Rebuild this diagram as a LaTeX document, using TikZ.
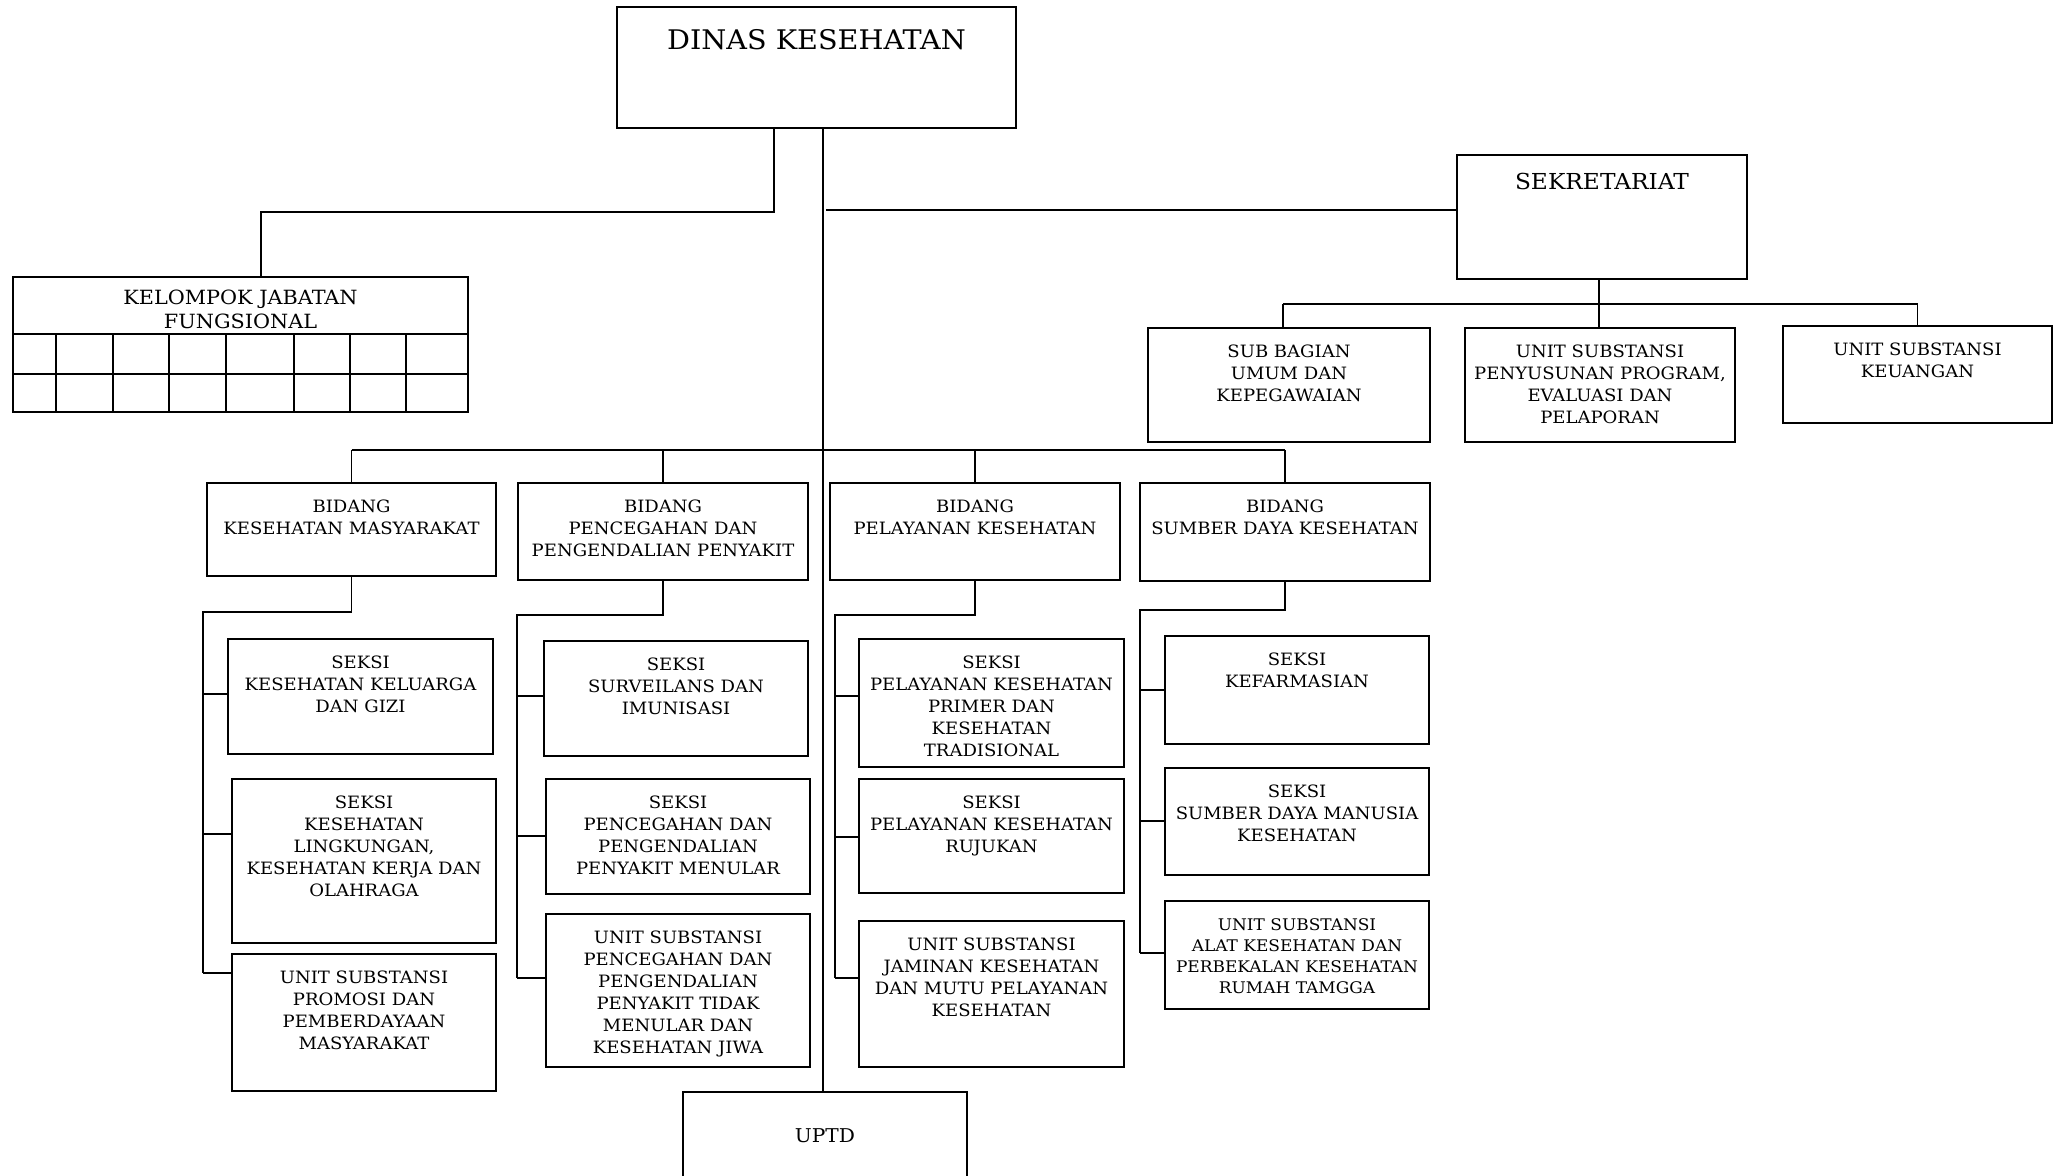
\documentclass[tikz,border=0pt]{standalone}
\usepackage{fontspec}
\setmainfont{DejaVu Serif}[FakeStretch=1.06]
\usetikzlibrary{calc}
\newcommand\orgbox[6]{%
  \node[#1, anchor=north west, minimum width={(#5-#3)*0.5pt}, minimum height={(#6-#4)*0.5pt}] (#2) at (#3,#4) {};}
\begin{document}
\begin{tikzpicture}[x=0.5pt,y=-0.5pt,
  box/.style={draw,line width=1.3pt,inner sep=0,outer sep=0},
  thinbox/.style={draw,line width=0.9pt,inner sep=0,outer sep=0},
  lbl/.style={anchor=north,inner sep=0,align=center,font=\fontsize{8.5}{11}\selectfont},
  lblsmall/.style={anchor=north,inner sep=0,align=center,font=\fontsize{8}{10.5}\selectfont},
  conn/.style={line width=0.9pt},
  kline/.style={line width=1pt}]
\useasboundingbox (0,0) rectangle (2064,1175);
\clip (0,0) rectangle (2064,1175);

% ---- boxes
\orgbox{thinbox}{dinas}{617}{7}{1016}{128}
\orgbox{box}{kjf}{13}{277}{468}{412}
\orgbox{thinbox}{sek}{1457}{155}{1747}{279}
\orgbox{box}{subbag}{1148}{328}{1430}{442}
\orgbox{box}{penyus}{1465}{328}{1735}{442}
\orgbox{box}{keu}{1783}{326}{2052}{423}
\orgbox{thinbox}{bkm}{207}{483}{496}{576}
\orgbox{thinbox}{bp}{518}{483}{808}{580}
\orgbox{thinbox}{bpel}{830}{483}{1120}{580}
\orgbox{thinbox}{bsdk}{1140}{483}{1430}{581}
\orgbox{box}{kkg}{228}{639}{493}{754}
\orgbox{box}{kesling}{232}{779}{496}{943}
\orgbox{box}{promosi}{232}{954}{496}{1091}
\orgbox{box}{surv}{544}{641}{808}{756}
\orgbox{box}{ppm}{546}{779}{810}{894}
\orgbox{box}{ptm}{546}{914}{810}{1067}
\orgbox{box}{primer}{859}{639}{1124}{767}
\orgbox{box}{rujukan}{859}{779}{1124}{893}
\orgbox{box}{jaminan}{859}{921}{1124}{1067}
\orgbox{box}{farmasi}{1165}{636}{1429}{744}
\orgbox{box}{sdm}{1165}{768}{1429}{875}
\orgbox{box}{alat}{1165}{901}{1429}{1009}
\orgbox{thinbox}{uptd}{683}{1092}{967}{1190}

% ---- KJF grid
\coordinate (kr1) at (13,334);
\coordinate (kr2) at (13,374);
\draw[kline] (kr1) -- (kr1 -| kjf.east);
\draw[kline] (kr2) -- (kr2 -| kjf.east);
\foreach \x in {56,113,169,226,294,350,406} \draw[kline] (\x,334) -- (\x,412);

% ---- texts
\node[anchor=base,inner sep=0,font=\fontsize{13.5}{16}\selectfont] (dinas-t) at ($(dinas.north)+(0,42)$) {DINAS KESEHATAN};
\node[anchor=base,inner sep=0,font=\fontsize{11}{13}\selectfont] (sek-t) at ($(sek.north)+(0,34)$) {SEKRETARIAT};
\node[anchor=north,inner sep=0,align=center,font=\fontsize{9.8}{12}\selectfont] (kjf-t) at ($(kjf.north)+(0,12.6)$) {KELOMPOK JABATAN\\FUNGSIONAL};
\node[anchor=base,inner sep=0,font=\fontsize{9.5}{12}\selectfont] (uptd-t) at (825,1142) {UPTD};

\node[lbl] (subbag-t) at ($(subbag.north)+(0,16.6)$) {SUB BAGIAN\\UMUM DAN\\KEPEGAWAIAN};
\node[lbl] (penyus-t) at ($(penyus.north)+(0,16.6)$) {UNIT SUBSTANSI\\PENYUSUNAN PROGRAM,\\EVALUASI DAN\\PELAPORAN};
\node[lbl] (keu-t) at ($(keu.north)+(0,16.6)$) {UNIT SUBSTANSI\\KEUANGAN};

\node[lbl] (bkm-t) at ($(bkm.north)+(0,16.6)$) {BIDANG\\KESEHATAN MASYARAKAT};
\node[lbl] (bp-t) at ($(bp.north)+(0,16.6)$) {BIDANG\\PENCEGAHAN DAN\\PENGENDALIAN PENYAKIT};
\node[lbl] (bpel-t) at ($(bpel.north)+(0,16.6)$) {BIDANG\\PELAYANAN KESEHATAN};
\node[lbl] (bsdk-t) at ($(bsdk.north)+(0,16.6)$) {BIDANG\\SUMBER DAYA KESEHATAN};

\node[lbl] (kkg-t) at ($(kkg.north)+(0,16.6)$) {SEKSI\\KESEHATAN KELUARGA\\DAN GIZI};
\node[lbl] (kesling-t) at ($(kesling.north)+(0,16.6)$) {SEKSI\\KESEHATAN\\LINGKUNGAN,\\KESEHATAN KERJA DAN\\OLAHRAGA};
\node[lbl] (promosi-t) at ($(promosi.north)+(0,16.6)$) {UNIT SUBSTANSI\\PROMOSI DAN\\PEMBERDAYAAN\\MASYARAKAT};

\node[lbl] (surv-t) at ($(surv.north)+(0,16.6)$) {SEKSI\\SURVEILANS DAN\\IMUNISASI};
\node[lbl] (ppm-t) at ($(ppm.north)+(0,16.6)$) {SEKSI\\PENCEGAHAN DAN\\PENGENDALIAN\\PENYAKIT MENULAR};
\node[lbl] (ptm-t) at ($(ptm.north)+(0,16.6)$) {UNIT SUBSTANSI\\PENCEGAHAN DAN\\PENGENDALIAN\\PENYAKIT TIDAK\\MENULAR DAN\\KESEHATAN JIWA};

\node[lbl] (primer-t) at ($(primer.north)+(0,16.6)$) {SEKSI\\PELAYANAN KESEHATAN\\PRIMER DAN\\KESEHATAN\\TRADISIONAL};
\node[lbl] (rujukan-t) at ($(rujukan.north)+(0,16.6)$) {SEKSI\\PELAYANAN KESEHATAN\\RUJUKAN};
\node[lbl] (jaminan-t) at ($(jaminan.north)+(0,16.6)$) {UNIT SUBSTANSI\\JAMINAN KESEHATAN\\DAN MUTU PELAYANAN\\KESEHATAN};

\node[lbl] (farmasi-t) at ($(farmasi.north)+(0,16.6)$) {SEKSI\\KEFARMASIAN};
\node[lbl] (sdm-t) at ($(sdm.north)+(0,16.6)$) {SEKSI\\SUMBER DAYA MANUSIA\\KESEHATAN};
\node[lblsmall] (alat-t) at ($(alat.north)+(0,17.3)$) {UNIT SUBSTANSI\\ALAT KESEHATAN DAN\\PERBEKALAN KESEHATAN\\RUMAH TAMGGA};

% ---- connectors
% dinas -> kjf
\coordinate (j1) at (774,212);
\coordinate (j2) at (261,212);
\draw[conn] (dinas.south -| j1) -- (j1) -- (j2) -- (kjf.north -| j2);
% main spine
\coordinate (mv) at (823,0);
\draw[conn] (dinas.south -| mv) -- (uptd.north -| mv);
% spine -> sekretariat
\coordinate (s1) at (826,210);
\draw[conn] (s1) -- (s1 -| sek.west);
% sekretariat -> children
\coordinate (sb) at (1599,304);
\coordinate (sbl) at (1283,304);
\draw[conn] (sek.south -| sb) -- (sb);
\draw[conn] (sb) -- (penyus.north -| sb);
\draw[conn] (sbl) -- (keu.north |- sb);
\draw[conn] (sbl) -- (subbag.north -| sbl);
\draw[conn] (keu.north |- sb) -- (keu.north);
% bus to bidang
\coordinate (bus) at (0,450);
\draw[conn] (bkm.north |- bus) -- (bsdk.north |- bus);
\foreach \b in {bkm,bp,bpel,bsdk} \draw[conn] (\b.north |- bus) -- (\b.north);

% bidang KM
\coordinate (kmh) at (203,612);
\coordinate (km1) at (203,694);
\coordinate (km2) at (203,834);
\coordinate (km3) at (203,973);
\draw[conn] (bkm.south) -- (bkm.south |- kmh) -- (kmh) -- (km3);
\draw[conn] (km1) -- (km1 -| kkg.west);
\draw[conn] (km2) -- (km2 -| kesling.west);
\draw[conn] (km3) -- (km3 -| promosi.west);

% bidang P2P
\coordinate (bph) at (517,615);
\coordinate (bp1) at (517,696);
\coordinate (bp2) at (517,836);
\coordinate (bp3) at (517,978);
\draw[conn] (bp.south) -- (bp.south |- bph) -- (bph) -- (bp3);
\draw[conn] (bp1) -- (bp1 -| surv.west);
\draw[conn] (bp2) -- (bp2 -| ppm.west);
\draw[conn] (bp3) -- (bp3 -| ptm.west);

% bidang pelayanan
\coordinate (plh) at (835,615);
\coordinate (pl1) at (835,696);
\coordinate (pl2) at (835,837);
\coordinate (pl3) at (835,978);
\draw[conn] (bpel.south) -- (bpel.south |- plh) -- (plh) -- (pl3);
\draw[conn] (pl1) -- (pl1 -| primer.west);
\draw[conn] (pl2) -- (pl2 -| rujukan.west);
\draw[conn] (pl3) -- (pl3 -| jaminan.west);

% bidang SDK
\coordinate (sdh) at (1140,610);
\coordinate (sd1) at (1140,690);
\coordinate (sd2) at (1140,821);
\coordinate (sd3) at (1140,953);
\draw[conn] (bsdk.south) -- (bsdk.south |- sdh) -- (sdh) -- (sd3);
\draw[conn] (sd1) -- (sd1 -| farmasi.west);
\draw[conn] (sd2) -- (sd2 -| sdm.west);
\draw[conn] (sd3) -- (sd3 -| alat.west);
\end{tikzpicture}
\end{document}
